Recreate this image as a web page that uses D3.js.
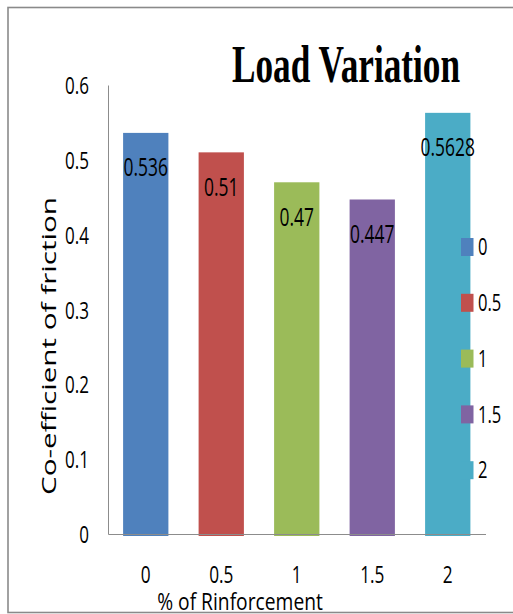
<!DOCTYPE html>
<html>
<head>
<meta charset="utf-8">
<script src="https://cdn.jsdelivr.net/npm/d3@7"></script>
<style>
  html, body { margin: 0; padding: 0; background: #fff; }
  svg { display: block; }
</style>
</head>
<body>
<div id="chart"></div>
<script>
// Reinforcement levels (%) and measured co-efficient of friction
const categories = ["0", "0.5", "1", "1.5", "2"];
const values = [0.536, 0.51, 0.47, 0.447, 0.5628];
const valueLabels = ["0.536", "0.51", "0.47", "0.447", "0.5628"];
const colors = ["#4F81BD", "#C0504D", "#9BBB59", "#8064A2", "#4BACC6"];
const yTicks = [0, 0.1, 0.2, 0.3, 0.4, 0.5, 0.6];
const yTickLabels = ["0", "0.1", "0.2", "0.3", "0.4", "0.5", "0.6"];

const W = 513, H = 614;
const plot = { left: 108, right: 485.5, top: 85, bottom: 534 };
const sans = "'Open Sans', 'Noto Sans', sans-serif";

const svg = d3.select("#chart").append("svg")
  .attr("width", W).attr("height", H);

// outer chart border
svg.append("rect")
  .attr("x", 8).attr("y", 7.5)
  .attr("width", 530).attr("height", 605)
  .attr("fill", "#fff")
  .attr("stroke", "#8a8a8a").attr("stroke-width", 1.6);

const x = d3.scaleBand()
  .domain(categories)
  .range([plot.left, plot.right])
  .paddingInner(0.4)
  .paddingOuter(0.2);

const y = d3.scaleLinear()
  .domain([0, 0.6])
  .range([plot.bottom, plot.top]);

// title
svg.append("text")
  .attr("transform", "translate(346,82) scale(0.665,1)")
  .attr("text-anchor", "middle")
  .attr("font-family", "'Liberation Serif', 'Times New Roman', serif")
  .attr("font-weight", "bold")
  .attr("font-size", 53)
  .attr("fill", "#000")
  .text("Load Variation");

// bars
svg.append("g").selectAll("rect")
  .data(values)
  .join("rect")
  .attr("x", (d, i) => x(categories[i]))
  .attr("y", d => y(d))
  .attr("width", x.bandwidth())
  .attr("height", d => y(0) - y(d) + 2)
  .attr("fill", (d, i) => colors[i]);

// axes
const yAxis = svg.append("g")
  .attr("transform", `translate(${plot.left},0)`)
  .call(d3.axisLeft(y).tickValues(yTicks).tickFormat((d, i) => yTickLabels[i]).tickSize(0).tickPadding(19));
yAxis.select(".domain").attr("stroke", "#8c8c8c").attr("stroke-width", 1);
yAxis.selectAll(".tick text")
  .attr("x", 0)
  .attr("dy", "0.36em")
  .attr("transform", "translate(-19,0) scale(0.71,1)")
  .attr("font-family", sans)
  .attr("font-size", 24)
  .attr("fill", "#000");

const xAxis = svg.append("g")
  .attr("transform", `translate(0,${plot.bottom})`)
  .call(d3.axisBottom(x).tickSize(0).tickPadding(0));
xAxis.select(".domain").attr("stroke", "#8c8c8c").attr("stroke-width", 1);
xAxis.selectAll(".tick text")
  .attr("y", 0)
  .attr("dy", 0)
  .attr("transform", "translate(0,48.5) scale(0.75,1)")
  .attr("font-family", sans)
  .attr("font-size", 23)
  .attr("fill", "#000");

// value labels inside bars
svg.append("g").selectAll("text")
  .data(values)
  .join("text")
  .attr("transform", (d, i) => `translate(${x(categories[i]) + x.bandwidth() / 2},${y(d) + 34}) scale(0.67,1)`)
  .attr("text-anchor", "middle")
  .attr("dy", "0.36em")
  .attr("font-family", sans)
  .attr("font-size", 26)
  .attr("fill", "#000")
  .text((d, i) => valueLabels[i]);

// axis titles
svg.append("text")
  .attr("transform", "translate(240,610) scale(0.76,1)")
  .attr("text-anchor", "middle")
  .attr("font-family", sans)
  .attr("font-size", 23)
  .attr("textLength", 218)
  .attr("lengthAdjust", "spacingAndGlyphs")
  .attr("fill", "#000")
  .text("% of Rinforcement");

svg.append("text")
  .attr("transform", "translate(55.5,346) scale(0.68,1) rotate(-90)")
  .attr("text-anchor", "middle")
  .attr("font-family", sans)
  .attr("font-size", 28.5)
  .attr("textLength", 298)
  .attr("lengthAdjust", "spacingAndGlyphs")
  .attr("fill", "#000")
  .text("Co-efficient of friction");

// legend
const legend = svg.append("g").selectAll("g")
  .data(categories)
  .join("g")
  .attr("transform", (d, i) => `translate(461,${247 + i * 55.8})`);
legend.append("rect")
  .attr("x", 0).attr("y", -9)
  .attr("width", 12.5).attr("height", 18)
  .attr("fill", (d, i) => colors[i]);
legend.append("text")
  .attr("transform", "translate(17,0) scale(0.72,1)")
  .attr("dy", "0.36em")
  .attr("font-family", sans)
  .attr("font-size", 23)
  .attr("fill", "#000")
  .text(d => d);
</script>
</body>
</html>
